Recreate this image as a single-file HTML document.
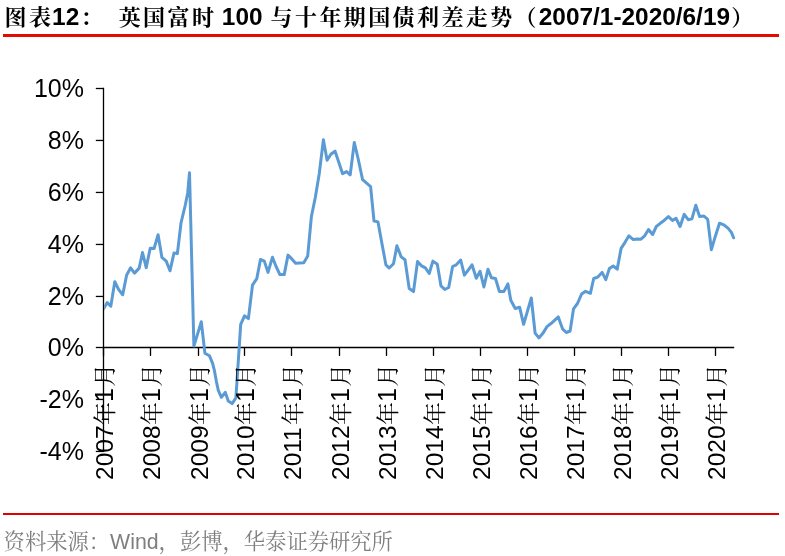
<!DOCTYPE html>
<html><head><meta charset="utf-8">
<style>
html,body{margin:0;padding:0;background:#fff;}
body{width:785px;height:556px;overflow:hidden;position:relative;}
svg{position:absolute;left:0;top:0;}
.t{font-family:"Liberation Sans","Noto Serif CJK SC",serif;font-weight:bold;font-size:24.4px;fill:#000;}
.tc{font-family:"Noto Serif CJK SC",serif;font-weight:bold;font-size:22px;fill:#000;}
.src{font-family:"Liberation Sans","Noto Serif CJK SC",serif;font-size:21.3px;fill:#7f7f7f;}
.ax{font-family:"Liberation Sans","Noto Serif CJK SC",sans-serif;font-size:25px;fill:#000;}
.cj{font-family:"Noto Serif CJK SC",serif;font-size:23px;}
.dg{font-size:24.5px;}
</style></head>
<body>
<svg width="785" height="556" viewBox="0 0 785 556">
<text class="tc" x="4.5 28.9" y="24.8">图表</text>
<text class="t" x="52.1" y="24.8">12</text>
<text class="tc" x="80.4" y="24.8">：</text>
<text class="tc" x="118.7 143.1 167.5 191.9" y="24.8">英国富时</text>
<text class="t" x="215.1" y="24.8" xml:space="preserve"> 100</text>
<text class="tc" x="270.6 295.0 319.4 343.8 368.2 392.6 417.0 441.4 465.8 490.2 514.6" y="24.8">与十年期国债利差走势（</text>
<text class="t" x="538.8" y="24.8">2007/1-2020/6/19</text>
<text class="tc" x="731.3" y="24.8">）</text>
<rect x="3" y="34" width="776" height="3" fill="#e30a00"/>
<g stroke="#000" stroke-width="1.3" fill="none">
<line x1="103.5" y1="87.85" x2="103.5" y2="452.10" />
<line x1="95.8" y1="88.5" x2="103.5" y2="88.5" />
<line x1="95.8" y1="140.45" x2="103.5" y2="140.45" />
<line x1="95.8" y1="192.45" x2="103.5" y2="192.45" />
<line x1="95.8" y1="244.45" x2="103.5" y2="244.45" />
<line x1="95.8" y1="296.45" x2="103.5" y2="296.45" />
<line x1="95.8" y1="347.5" x2="103.5" y2="347.5" />
<line x1="95.8" y1="399.45" x2="103.5" y2="399.45" />
<line x1="95.8" y1="451.45" x2="103.5" y2="451.45" />
<line x1="103.5" y1="347.5" x2="734.2" y2="347.5" />
<line x1="103.5" y1="347.5" x2="103.5" y2="355.90" />
<line x1="150.5" y1="347.5" x2="150.5" y2="355.90" />
<line x1="198.5" y1="347.5" x2="198.5" y2="355.90" />
<line x1="244.5" y1="347.5" x2="244.5" y2="355.90" />
<line x1="291.5" y1="347.5" x2="291.5" y2="355.90" />
<line x1="339.5" y1="347.5" x2="339.5" y2="355.90" />
<line x1="386.5" y1="347.5" x2="386.5" y2="355.90" />
<line x1="433.5" y1="347.5" x2="433.5" y2="355.90" />
<line x1="480.5" y1="347.5" x2="480.5" y2="355.90" />
<line x1="527.5" y1="347.5" x2="527.5" y2="355.90" />
<line x1="574.5" y1="347.5" x2="574.5" y2="355.90" />
<line x1="621.5" y1="347.5" x2="621.5" y2="355.90" />
<line x1="668.5" y1="347.5" x2="668.5" y2="355.90" />
<line x1="715.5" y1="347.5" x2="715.5" y2="355.90" />
</g>
<defs><clipPath id="pc"><rect x="104.15" y="0" width="700" height="556"/></clipPath></defs>
<polyline clip-path="url(#pc)" points="103.5,309.0 107.2,302.6 110.8,306.2 114.8,281.7 118.7,289.6 122.7,294.7 126.6,275.3 130.6,267.8 134.5,273.1 139.2,268.1 142.5,252.5 146.2,267.6 150.2,248.2 154.1,248.5 158.1,234.7 161.9,257.4 166.2,261.1 170.0,270.8 174.0,253.0 177.4,253.5 181.0,223.0 185.3,205.0 187.7,193.0 189.5,172.8 193.9,346.0 197.7,333.6 201.3,321.7 204.9,353.2 209.4,355.7 212.6,363.3 214.5,370.9 216.4,381.6 218.3,390.4 221.4,397.3 225.2,392.3 228.3,401.1 232.1,403.6 235.9,397.9 240.7,324.3 244.5,315.8 248.4,318.6 252.5,285.1 256.8,278.6 260.5,259.4 264.3,261.1 268.0,272.4 272.4,257.3 276.1,266.5 279.9,274.6 284.2,274.6 288.0,255.1 291.8,258.9 295.6,263.2 299.4,262.9 303.8,262.8 307.7,256.0 311.4,216.5 315.3,197.5 319.2,174.0 323.4,139.7 327.1,160.2 330.9,154.3 335.0,151.1 342.6,173.7 346.6,171.6 350.2,174.8 354.3,142.5 358.2,159.0 362.6,179.7 370.6,186.6 374.0,221.0 378.0,221.9 382.2,245.0 385.9,264.8 389.2,268.0 393.5,263.8 396.9,245.8 401.2,256.9 405.0,259.7 409.2,288.6 413.5,291.6 417.5,261.6 421.6,265.9 425.4,267.9 429.2,273.5 432.9,261.1 437.3,264.3 441.0,285.9 444.8,289.5 448.7,287.5 452.6,266.5 456.3,264.8 460.7,260.0 464.4,275.1 468.2,270.2 472.0,264.8 476.3,278.3 480.1,271.3 483.9,287.0 488.0,269.2 491.4,277.8 495.5,278.5 499.4,291.5 503.9,291.5 507.9,283.9 510.8,300.3 515.2,308.5 519.6,307.2 523.6,324.3 531.3,298.0 535.1,333.1 538.9,337.9 542.7,333.6 547.0,326.6 551.3,323.3 558.3,316.9 562.7,329.2 566.3,332.5 570.1,331.0 573.5,308.9 577.5,303.5 581.6,294.0 585.6,291.3 590.4,293.3 593.7,278.5 597.8,277.1 602.1,272.4 605.8,279.6 609.4,268.5 613.2,266.0 617.2,269.2 621.1,248.4 625.2,242.1 628.9,235.8 633.3,239.6 637.1,238.9 640.9,239.2 644.7,235.8 648.5,229.5 652.6,234.5 656.3,226.5 660.3,223.3 664.4,220.2 668.4,216.6 672.5,220.4 676.1,218.4 680.1,226.5 684.2,214.3 688.2,219.7 691.9,218.9 695.8,205.2 699.6,216.5 703.9,216.0 707.7,219.4 711.4,249.7 715.2,236.7 719.5,223.2 723.9,224.8 728.2,228.3 731.4,232.4 733.6,237.8" fill="none" stroke="#5b9bd5" stroke-width="3" stroke-linejoin="round" stroke-linecap="round"/>
<g class="ax">
<text x="84" y="97.00" text-anchor="end">10%</text>
<text x="84" y="148.95" text-anchor="end">8%</text>
<text x="84" y="200.95" text-anchor="end">6%</text>
<text x="84" y="252.95" text-anchor="end">4%</text>
<text x="84" y="304.95" text-anchor="end">2%</text>
<text x="84" y="356.00" text-anchor="end">0%</text>
<text x="84" y="407.95" text-anchor="end">-2%</text>
<text x="84" y="459.95" text-anchor="end">-4%</text>
<g transform="translate(112.90,0) rotate(-90)"><text x="-480" class="dg">2007</text><text transform="translate(-413.6,0)" text-anchor="middle" class="cj">年</text><text x="-402.1">1</text><text x="-386.7" class="cj">月</text></g>
<g transform="translate(159.90,0) rotate(-90)"><text x="-480" class="dg">2008</text><text transform="translate(-413.6,0)" text-anchor="middle" class="cj">年</text><text x="-402.1">1</text><text x="-386.7" class="cj">月</text></g>
<g transform="translate(207.90,0) rotate(-90)"><text x="-480" class="dg">2009</text><text transform="translate(-413.6,0)" text-anchor="middle" class="cj">年</text><text x="-402.1">1</text><text x="-386.7" class="cj">月</text></g>
<g transform="translate(253.90,0) rotate(-90)"><text x="-480" class="dg">2010</text><text transform="translate(-413.6,0)" text-anchor="middle" class="cj">年</text><text x="-402.1">1</text><text x="-386.7" class="cj">月</text></g>
<g transform="translate(300.90,0) rotate(-90)"><text x="-480" class="dg">2011</text><text transform="translate(-413.6,0)" text-anchor="middle" class="cj">年</text><text x="-402.1">1</text><text x="-386.7" class="cj">月</text></g>
<g transform="translate(348.90,0) rotate(-90)"><text x="-480" class="dg">2012</text><text transform="translate(-413.6,0)" text-anchor="middle" class="cj">年</text><text x="-402.1">1</text><text x="-386.7" class="cj">月</text></g>
<g transform="translate(395.90,0) rotate(-90)"><text x="-480" class="dg">2013</text><text transform="translate(-413.6,0)" text-anchor="middle" class="cj">年</text><text x="-402.1">1</text><text x="-386.7" class="cj">月</text></g>
<g transform="translate(442.90,0) rotate(-90)"><text x="-480" class="dg">2014</text><text transform="translate(-413.6,0)" text-anchor="middle" class="cj">年</text><text x="-402.1">1</text><text x="-386.7" class="cj">月</text></g>
<g transform="translate(489.90,0) rotate(-90)"><text x="-480" class="dg">2015</text><text transform="translate(-413.6,0)" text-anchor="middle" class="cj">年</text><text x="-402.1">1</text><text x="-386.7" class="cj">月</text></g>
<g transform="translate(536.90,0) rotate(-90)"><text x="-480" class="dg">2016</text><text transform="translate(-413.6,0)" text-anchor="middle" class="cj">年</text><text x="-402.1">1</text><text x="-386.7" class="cj">月</text></g>
<g transform="translate(583.90,0) rotate(-90)"><text x="-480" class="dg">2017</text><text transform="translate(-413.6,0)" text-anchor="middle" class="cj">年</text><text x="-402.1">1</text><text x="-386.7" class="cj">月</text></g>
<g transform="translate(630.90,0) rotate(-90)"><text x="-480" class="dg">2018</text><text transform="translate(-413.6,0)" text-anchor="middle" class="cj">年</text><text x="-402.1">1</text><text x="-386.7" class="cj">月</text></g>
<g transform="translate(677.90,0) rotate(-90)"><text x="-480" class="dg">2019</text><text transform="translate(-413.6,0)" text-anchor="middle" class="cj">年</text><text x="-402.1">1</text><text x="-386.7" class="cj">月</text></g>
<g transform="translate(724.90,0) rotate(-90)"><text x="-480" class="dg">2020</text><text transform="translate(-413.6,0)" text-anchor="middle" class="cj">年</text><text x="-402.1">1</text><text x="-386.7" class="cj">月</text></g>
</g>
<rect x="3" y="513" width="776" height="2" fill="#e00000"/>
<text class="src" x="3.6" y="549">资料来源：Wind，彭博，华泰证券研究所</text>
</svg>
</body></html>
